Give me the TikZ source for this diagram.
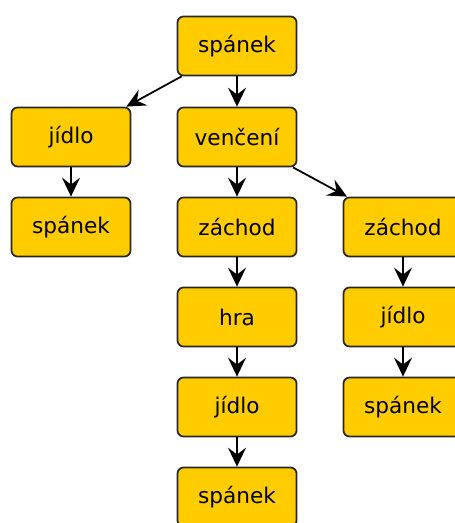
\documentclass[tikz,border=0pt]{standalone}
\usepackage{fontspec}
\setmainfont{DejaVu Sans}
\usepackage{tikz}
\usetikzlibrary{arrows.meta}
\definecolor{gold}{RGB}{255,204,0}
\definecolor{rim}{RGB}{40,40,40}
\tikzstyle{every node}=[rectangle,rounded corners=1.2mm,draw=rim,line width=1pt,fill=gold,minimum width=2.38cm,minimum height=1.18cm,inner sep=0pt,font=\fontsize{12.3}{14}\selectfont]
\tikzstyle{step arrow}=[-{Stealth[length=3.8mm,width=3.6mm,inset=1.4mm]},line width=1pt]

\begin{document}
\begin{tikzpicture}
\useasboundingbox (0,0) rectangle (9.08,-10.46);
\node (s1) at (4.74,-0.92) {spánek};
\node (j1) at (1.42,-2.74) {jídlo};
\node (v1) at (4.74,-2.74) {venčení};
\node (s2) at (1.42,-4.54) {spánek};
\node (z1) at (4.74,-4.54) {záchod};
\node (z2) at (8.06,-4.54) {záchod};
\node (h1) at (4.74,-6.34) {hra};
\node (j3) at (8.06,-6.34) {jídlo};
\node (j2) at (4.74,-8.14) {jídlo};
\node (s4) at (8.06,-8.14) {spánek};
\node (s3) at (4.74,-9.94) {spánek};
\draw[step arrow] (s1)--(j1);
\draw[step arrow] (s1)--(v1);
\draw[step arrow] (j1)--(s2);
\draw[step arrow] (v1)--(z1);
\draw[step arrow] (v1)--(z2);
\draw[step arrow] (z1)--(h1);
\draw[step arrow] (h1)--(j2);
\draw[step arrow] (j2)--(s3);
\draw[step arrow] (z2)--(j3);
\draw[step arrow] (j3)--(s4);
\end{tikzpicture}
\end{document}
